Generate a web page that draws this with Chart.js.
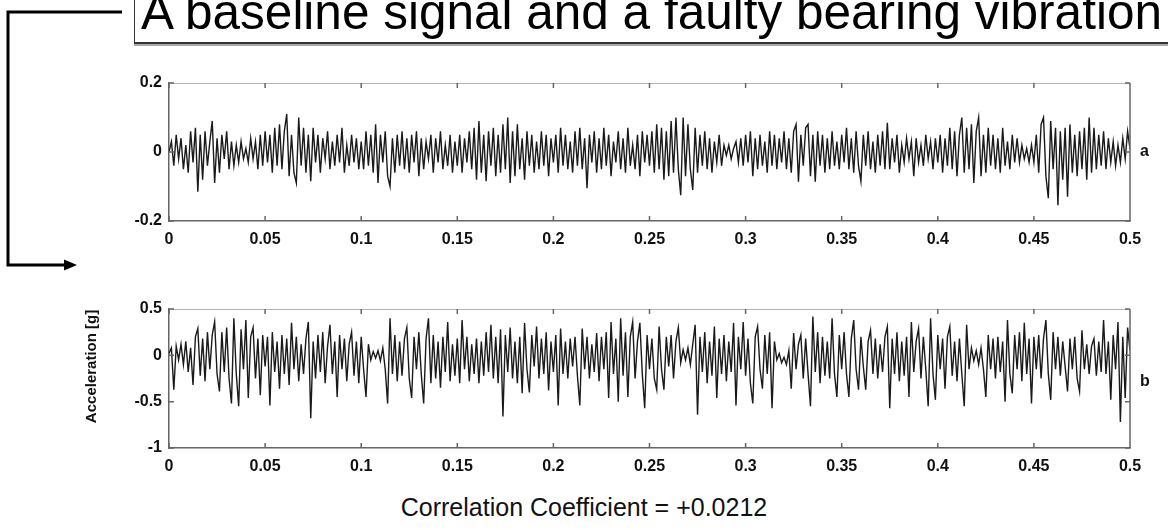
<!DOCTYPE html>
<html>
<head>
<meta charset="utf-8">
<title>Baseline vs faulty bearing vibration</title>
<script src="https://cdn.jsdelivr.net/npm/chart.js@4.4.1/dist/chart.umd.min.js"></script>
<style>
  html, body { margin: 0; padding: 0; background: #fff; }
  body { width: 1168px; height: 530px; position: relative; overflow: hidden; font-family: "Liberation Sans", Arial, sans-serif; }
  .panel { position: absolute; left: 0; width: 1168px; height: 200px; }
  #panelA { top: 60px; }
  #panelB { top: 290px; }
  #titleBox { position: absolute; left: 134px; top: -10px; width: 1100px; height: 52px; border-left: 1px solid #333; border-bottom: 2px solid #333; box-shadow: 0 2px 0 #aaa; }
  #titleText { position: absolute; left: 141px; top: -13px; font-size: 49.5px; line-height: 49.5px; white-space: nowrap; color: #000; }
  #corr { position: absolute; left: 0; width: 1168px; top: 495px; text-align: center; font-size: 25px; line-height: 25px; color: #111; }
  #arrow { position: absolute; left: 0; top: 0; }
</style>
</head>
<body>
<div id="titleBox"></div>
<div id="titleText">A baseline signal and a faulty bearing vibration</div>
<svg id="arrow" width="140" height="290">
  <polyline points="122,12 8,12 8,265 67,265" fill="none" stroke="#000" stroke-width="3"/>
  <polygon points="77,265 64,259.5 64,270.5" fill="#000"/>
</svg>
<div class="panel" id="panelA"><canvas id="chartA" width="1168" height="200"></canvas></div>
<div class="panel" id="panelB"><canvas id="chartB" width="1168" height="200"></canvas></div>
<div id="corr">Correlation Coefficient = +0.0212</div>

<script>
// sample spacing in seconds (both records cover 0 .. 0.5 s)
const sampleStep = 0.00125;

const xTicks = { min: 0, max: 0.5, step: 0.05 };

// a: baseline signal [g], one row = 0.025 s
const baselineSignal = [
  0.00, 0.03, -0.04, 0.05, -0.02, 0.04, -0.05, 0.02, -0.06, 0.06, -0.03, 0.07, -0.115, 0.05, -0.08, 0.06, -0.04, 0.03, 0.09, -0.09,
  0.04, -0.06, 0.05, -0.02, 0.06, -0.05, 0.03, -0.04, 0.02, -0.03, 0.03, -0.02, 0.01, -0.03, 0.04, -0.02, 0.03, -0.05, 0.05, -0.04,
  0.06, -0.03, 0.05, -0.06, 0.07, -0.04, 0.08, -0.05, 0.06, 0.11, -0.07, 0.05, -0.06, -0.09, 0.10, -0.04, 0.07, -0.06, 0.05, -0.085,
  0.07, -0.03, 0.05, -0.06, 0.04, -0.02, 0.06, -0.05, 0.03, -0.04, 0.05, -0.03, 0.07, -0.06, 0.02, -0.04, 0.05, -0.03, 0.04, -0.05,
  0.03, -0.05, 0.06, -0.04, 0.05, -0.06, 0.08, -0.09, 0.05, -0.03, 0.06, -0.07, -0.10, 0.04, -0.06, 0.05, -0.04, 0.06, -0.05, 0.04,
  -0.06, 0.05, -0.03, 0.06, -0.07, 0.04, -0.05, 0.03, -0.02, 0.05, -0.06, 0.04, -0.03, 0.06, -0.05, 0.02, -0.04, 0.05, -0.06, 0.03,
  -0.04, 0.05, -0.06, 0.04, -0.03, 0.06, -0.05, 0.07, -0.08, 0.09, -0.06, 0.05, -0.085, 0.06, -0.04, 0.07, -0.07, 0.05, -0.06, 0.08,
  -0.05, 0.10, -0.09, 0.06, -0.07, 0.08, -0.05, 0.04, -0.08, 0.06, -0.04, 0.05, -0.06, 0.03, -0.05, 0.06, -0.04, 0.05, -0.07, 0.04,
  -0.03, 0.05, -0.06, 0.07, -0.04, 0.05, -0.05, 0.03, -0.06, 0.06, -0.04, 0.07, -0.05, 0.04, -0.105, 0.05, -0.03, 0.06, -0.06, 0.04,
  -0.05, 0.07, -0.04, 0.05, -0.07, 0.03, -0.03, 0.06, -0.05, 0.04, -0.06, 0.07, -0.04, 0.02, -0.05, 0.05, -0.07, 0.06, -0.03, 0.05,
  -0.04, 0.06, -0.06, 0.08, -0.05, 0.07, -0.08, 0.06, -0.07, 0.09, -0.06, 0.10, -0.05, -0.125, 0.10, -0.07, 0.08, -0.05, -0.11, 0.07,
  -0.06, 0.05, -0.04, 0.06, -0.05, 0.04, -0.06, 0.03, -0.03, 0.05, -0.04, 0.02, -0.01, 0.02, -0.02, 0.01, 0.03, -0.03, 0.04, -0.04,
  0.05, -0.03, 0.06, -0.07, 0.04, -0.05, 0.05, -0.04, 0.03, -0.06, 0.06, -0.04, 0.05, -0.05, 0.04, -0.03, 0.06, -0.05, 0.04, -0.06,
  0.06, 0.08, -0.086, 0.05, -0.04, 0.07, 0.08, -0.07, 0.05, -0.086, 0.06, -0.04, 0.05, -0.06, 0.04, -0.05, 0.06, -0.04, 0.03, -0.05,
  0.05, -0.03, 0.07, -0.05, 0.04, -0.06, 0.06, -0.04, -0.085, 0.05, -0.04, 0.06, -0.05, 0.03, -0.06, 0.05, -0.04, 0.06, -0.05, 0.085,
  -0.05, 0.04, -0.03, 0.05, -0.06, 0.02, -0.03, 0.04, -0.02, 0.03, -0.07, 0.04, -0.03, 0.02, -0.04, 0.05, -0.02, 0.03, -0.05, 0.04,
  -0.03, 0.05, -0.06, 0.04, -0.04, 0.07, -0.05, 0.06, -0.07, 0.05, 0.10, -0.06, 0.07, -0.05, 0.08, -0.09, 0.06, 0.10, -0.07, 0.05,
  -0.06, 0.07, -0.04, 0.05, -0.05, 0.04, -0.06, 0.07, -0.04, 0.03, -0.05, 0.05, -0.03, 0.04, -0.03, 0.02, -0.02, 0.01, -0.03, 0.02,
  -0.03, 0.05, -0.06, 0.08, 0.10, -0.07, -0.134, 0.09, -0.05, 0.07, -0.154, 0.06, -0.08, 0.07, -0.13, 0.08, -0.06, 0.05, -0.07, 0.06,
  -0.05, 0.07, -0.08, 0.10, -0.06, 0.07, -0.05, 0.05, -0.04, 0.06, -0.05, 0.04, -0.03, 0.03, -0.04, 0.02, -0.03, 0.04, -0.02, 0.06,
  0.01
];

// b: faulty bearing signal [g], one row = 0.025 s
const faultySignal = [
  0.02, 0.08, -0.37, 0.10, -0.05, 0.12, -0.10, 0.15, -0.18, 0.08, -0.32, 0.20, 0.29, -0.22, 0.18, -0.28, 0.25, -0.15, 0.22, 0.36,
  -0.20, -0.39, 0.25, -0.18, 0.30, -0.25, -0.52, 0.40, -0.20, -0.55, 0.28, -0.15, 0.38, -0.46, 0.20, 0.30, -0.25, 0.18, -0.43, 0.22,
  -0.12, 0.20, -0.54, 0.25, -0.18, 0.15, -0.36, 0.22, -0.20, 0.18, -0.32, 0.35, -0.15, 0.20, -0.28, 0.12, -0.20, 0.18, 0.36, -0.68,
  0.15, -0.25, 0.22, -0.18, 0.25, -0.30, 0.10, 0.33, -0.20, 0.15, -0.45, 0.22, -0.15, 0.18, -0.28, 0.12, 0.25, -0.22, 0.15, -0.30,
  0.20, -0.15, -0.45, 0.12, -0.05, 0.04, -0.03, 0.05, -0.06, 0.08, -0.15, -0.52, 0.40, -0.20, 0.22, -0.28, 0.15, -0.22, 0.18, 0.30,
  -0.25, -0.46, 0.20, -0.15, 0.25, -0.20, -0.52, 0.18, 0.40, -0.30, 0.22, -0.25, 0.15, -0.35, 0.20, -0.18, 0.36, -0.28, 0.12, -0.22,
  0.18, -0.30, 0.38, -0.15, 0.20, -0.28, 0.12, -0.20, 0.18, -0.30, 0.15, -0.22, 0.25, -0.18, 0.33, -0.25, 0.20, -0.30, 0.28, -0.66,
  0.22, -0.18, 0.30, -0.25, 0.15, -0.30, 0.20, -0.41, 0.35, -0.15, -0.40, 0.22, -0.12, 0.31, -0.25, 0.18, -0.20, 0.25, -0.38, 0.15,
  -0.18, 0.22, -0.54, 0.29, -0.20, 0.15, -0.25, 0.18, -0.12, 0.20, -0.22, -0.54, 0.29, -0.15, 0.20, -0.25, 0.12, -0.18, 0.24, -0.28,
  0.20, -0.15, 0.25, -0.46, 0.36, -0.20, 0.18, -0.50, 0.40, -0.22, 0.25, -0.45, 0.20, 0.36, -0.25, 0.15, 0.35, -0.20, -0.57, 0.22,
  -0.15, 0.18, -0.25, -0.37, 0.31, -0.15, -0.37, 0.20, -0.12, 0.22, -0.25, 0.15, 0.30, -0.08, 0.06, -0.05, 0.08, -0.10, 0.12, 0.33,
  -0.64, 0.20, -0.18, 0.25, -0.30, 0.15, -0.22, 0.31, -0.46, 0.18, -0.20, 0.22, -0.28, 0.15, -0.18, 0.35, -0.54, 0.20, -0.15, 0.36,
  -0.22, 0.18, -0.30, -0.52, 0.20, 0.31, -0.15, -0.36, 0.22, -0.20, 0.25, -0.57, 0.15, -0.05, 0.02, -0.08, -0.02, -0.10, 0.05, -0.36,
  0.24, -0.15, 0.12, 0.22, -0.25, 0.18, -0.20, -0.55, 0.42, -0.18, 0.25, -0.30, 0.20, -0.22, 0.15, -0.25, 0.40, -0.20, -0.45, 0.22,
  -0.15, 0.25, -0.20, -0.45, 0.18, 0.38, -0.15, -0.37, 0.20, -0.12, -0.37, 0.15, 0.27, -0.20, 0.18, -0.25, 0.12, -0.18, 0.20, 0.31,
  -0.57, 0.18, -0.20, 0.25, -0.28, 0.15, -0.22, 0.20, -0.45, 0.36, -0.18, 0.15, 0.29, -0.25, 0.20, -0.15, -0.55, 0.40, -0.20, -0.48,
  0.22, -0.15, 0.18, -0.36, 0.20, 0.31, -0.22, 0.15, -0.28, 0.18, -0.20, -0.55, 0.33, -0.15, 0.08, -0.06, 0.05, -0.10, 0.08, -0.15,
  -0.45, 0.22, -0.15, 0.18, -0.25, 0.20, -0.18, 0.15, -0.50, 0.38, -0.20, -0.41, 0.22, -0.15, 0.25, -0.28, 0.35, -0.20, 0.18, -0.52,
  0.20, -0.15, 0.22, -0.25, 0.18, 0.38, -0.20, -0.48, 0.25, -0.15, 0.20, -0.22, 0.15, -0.12, -0.39, 0.18, -0.15, 0.20, -0.25, -0.39,
  0.27, -0.15, 0.12, -0.20, 0.10, 0.18, -0.22, 0.15, -0.18, 0.38, -0.20, 0.15, -0.48, 0.22, -0.15, 0.36, -0.72, 0.20, -0.46, 0.30,
  0.05
];

const fontFamily = '"Liberation Sans", Arial, sans-serif';
const tickFont = { family: fontFamily, size: 16, weight: 'bold' };
const fmt = v => String(Math.round(v * 100) / 100);

// box edges, inward tick marks, panel letter and the rotated y label
const panelFrame = {
  id: 'panelFrame',
  afterDraw(chart, args, opts) {
    const { ctx, chartArea: { left, right, top, bottom }, scales: { x, y } } = chart;
    ctx.save();
    ctx.strokeStyle = '#b5b5b5';
    ctx.lineWidth = 1;
    ctx.beginPath();
    ctx.moveTo(left, top + 0.5);
    ctx.lineTo(right, top + 0.5);
    ctx.stroke();

    ctx.strokeStyle = '#666';
    ctx.lineWidth = 1.5;
    ctx.beginPath();
    ctx.moveTo(right, top);
    ctx.lineTo(right, bottom);
    x.ticks.forEach(t => {
      const px = x.getPixelForValue(t.value);
      ctx.moveTo(px, bottom);
      ctx.lineTo(px, bottom - 5);
      ctx.moveTo(px, top);
      ctx.lineTo(px, top + 5);
    });
    y.ticks.forEach(t => {
      const py = y.getPixelForValue(t.value);
      ctx.moveTo(left, py);
      ctx.lineTo(left + 5, py);
      ctx.moveTo(right, py);
      ctx.lineTo(right - 5, py);
    });
    ctx.stroke();

    ctx.fillStyle = '#111';
    ctx.font = 'bold 16px ' + fontFamily;
    ctx.textBaseline = 'middle';
    ctx.fillText(opts.letter, right + 10, y.getPixelForValue(opts.letterAt));

    if (opts.yTitle) {
      ctx.translate(left - 77, y.getPixelForValue(opts.yTitleAt));
      ctx.rotate(-Math.PI / 2);
      ctx.textAlign = 'center';
      ctx.font = 'bold 15px ' + fontFamily;
      ctx.fillText(opts.yTitle, 0, 0);
    }
    ctx.restore();
  }
};

function drawPanel(canvasId, values, yMin, yMax, yStep, frame, padTop, padBottom) {
  const points = values.map((v, i) => ({ x: i * sampleStep, y: v }));
  new Chart(document.getElementById(canvasId), {
    type: 'line',
    data: {
      datasets: [{
        data: points,
        borderColor: '#1a1a1a',
        borderWidth: 1.4,
        pointRadius: 0,
        tension: 0
      }]
    },
    options: {
      responsive: false,
      animation: false,
      layout: { padding: { left: 79, right: 38, top: padTop, bottom: padBottom } },
      plugins: {
        legend: { display: false },
        tooltip: { enabled: false },
        panelFrame: frame
      },
      scales: {
        x: {
          type: 'linear',
          min: xTicks.min,
          max: xTicks.max,
          afterFit: s => { s.height = 30; },
          grid: { display: false, drawTicks: false },
          border: { display: true, color: '#666', width: 1.5 },
          ticks: { stepSize: xTicks.step, padding: 9, font: tickFont, color: '#111', maxRotation: 0, autoSkip: false, callback: fmt }
        },
        y: {
          min: yMin,
          max: yMax,
          afterFit: s => { s.width = 90; },
          grid: { display: false, drawTicks: false },
          border: { display: true, color: '#666', width: 1.5 },
          ticks: { stepSize: yStep, padding: 7, font: tickFont, color: '#111', callback: fmt }
        }
      }
    },
    plugins: [panelFrame]
  });
}

drawPanel('chartA', baselineSignal, -0.2, 0.2, 0.2, { letter: 'a', letterAt: 0 }, 23, 9);
drawPanel('chartB', faultySignal, -1, 0.5, 0.5,
  { letter: 'b', letterAt: -0.28, yTitle: 'Acceleration [g]', yTitleAt: -0.12 }, 19, 12);
</script>
</body>
</html>
